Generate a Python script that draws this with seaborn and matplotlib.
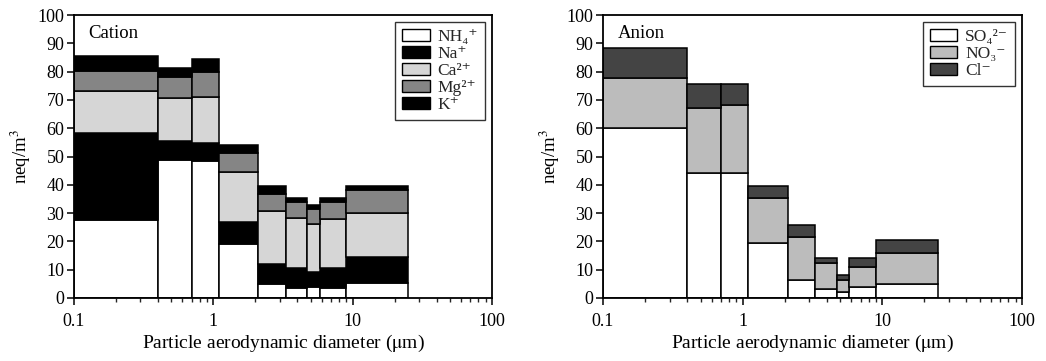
import numpy as np
import pandas as pd
import matplotlib
matplotlib.use("Agg")
import matplotlib.pyplot as plt
import seaborn as sns
from matplotlib.patches import Patch
from matplotlib.ticker import LogLocator, FixedLocator, FixedFormatter, NullFormatter

# ---- data ----
edges = [0.1, 0.4, 0.7, 1.1, 2.1, 3.3, 4.7, 5.8, 9.0, 25.0]
cation_labels = ["NH\u2084\u207a", "Na\u207a", "Ca\u00b2\u207a", "Mg\u00b2\u207a", "K\u207a"]
nh4 = [27.5, 48.7, 48.3, 19.2, 5.1, 3.7, 3.9, 3.5, 5.4]
na  = [30.8, 6.7, 6.3, 7.7, 7.0, 7.0, 5.3, 7.2, 9.1]
ca  = [15.0, 15.1, 16.5, 17.7, 18.7, 17.7, 17.1, 17.1, 15.7]
mg  = [7.0, 7.7, 8.9, 6.5, 6.1, 5.6, 5.3, 6.2, 7.9]
k   = [5.3, 2.9, 4.4, 3.1, 2.6, 1.4, 1.2, 1.5, 1.4]

anion_labels = ["SO\u2084\u00b2\u207b", "NO\u2083\u207b", "Cl\u207b"]
so4 = [60.0, 44.0, 44.0, 19.6, 6.5, 3.3, 2.1, 3.9, 5.1]
no3 = [17.8, 23.2, 24.2, 15.8, 15.0, 8.9, 4.4, 7.1, 10.8]
cl  = [10.5, 8.3, 7.3, 4.3, 4.4, 2.1, 1.5, 3.3, 4.7]

cation_colors = ["#ffffff", "#000000", "#d6d6d6", "#858585", "#000000"]
anion_colors = ["#ffffff", "#bcbcbc", "#444444"]

sns.set_theme(style="ticks")
plt.rcParams["font.family"] = ["Liberation Serif", "DejaVu Serif"]
plt.rcParams["mathtext.fontset"] = "stix"

fig = plt.figure(figsize=(10.46, 3.61), dpi=100)
axL = fig.add_axes([74/1046, 63/361, 418/1046, 283/361])
axR = fig.add_axes([603/1046, 63/361, 419/1046, 283/361])

log_edges = [float(np.log10(e)) for e in edges]
centers = [float(np.sqrt(edges[i]*edges[i+1])) for i in range(len(edges)-1)]


def panel(ax, series, labels, colors, title):
    rows = []
    for lab, vals in zip(labels, series):
        for c, v in zip(centers, vals):
            rows.append({"d": c, "v": v, "ion": lab})
    df = pd.DataFrame(rows)
    order = labels[::-1]
    pal = dict(zip(labels, colors))
    sns.histplot(data=df, x="d", weights="v", hue="ion", hue_order=order,
                 multiple="stack", bins=log_edges, log_scale=True,
                 palette=pal, alpha=1, edgecolor="black", linewidth=1.1,
                 legend=False, ax=ax)
    ax.set_xlim(0.1, 100)
    ax.set_ylim(0, 100)
    ax.set_yticks(range(0, 101, 10))
    ax.xaxis.set_major_locator(FixedLocator([0.1, 1, 10, 100]))
    ax.xaxis.set_major_formatter(FixedFormatter(["0.1", "1", "10", "100"]))
    ax.xaxis.set_minor_locator(LogLocator(base=10, subs=np.arange(2, 10)))
    ax.xaxis.set_minor_formatter(NullFormatter())
    ax.tick_params(axis="both", which="major", direction="out", length=5,
                   width=1.1, labelsize=13, color="black", labelcolor="black")
    ax.tick_params(axis="y", pad=2)
    ax.tick_params(axis="x", which="minor", direction="out", length=3, width=1)
    ax.tick_params(axis="x", pad=6)
    for s in ax.spines.values():
        s.set_visible(True)
        s.set_linewidth(1.3)
        s.set_color("black")
    ax.set_xlabel(r"Particle aerodynamic diameter ($\mathrm{\mu}$m)", fontsize=14,
                  color="black", labelpad=2)
    ax.set_ylabel(r"neq/m$^3$", fontsize=13.5, color="black", labelpad=3)
    ax.text(0.035, 0.935, title, transform=ax.transAxes, fontsize=13.5,
            ha="left", va="center", color="black")
    handles = [Patch(facecolor=c, edgecolor="black", linewidth=1) for c in colors]
    leg = ax.legend(handles, labels, loc="upper right", fontsize=12.5,
                    frameon=True, fancybox=False, edgecolor="black",
                    borderaxespad=0.4, handlelength=1.6, handleheight=0.7,
                    labelspacing=0.05, handletextpad=0.45, borderpad=0.4)
    leg.get_frame().set_linewidth(1.0)


panel(axL, [nh4, na, ca, mg, k], cation_labels, cation_colors, "Cation")
panel(axR, [so4, no3, cl], anion_labels, anion_colors, "Anion")

fig.savefig("out.png", dpi=100)
